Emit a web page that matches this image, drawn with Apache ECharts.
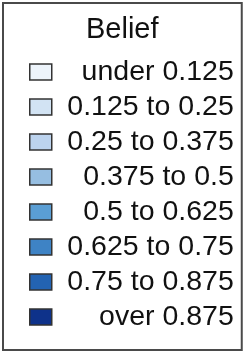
<!DOCTYPE html>
<html>
<head>
<meta charset="utf-8">
<script src="https://cdn.jsdelivr.net/npm/echarts@6/dist/echarts.min.js"></script>
<style>
  html, body { margin: 0; padding: 0; background: #fff; }
  #legendChart { width: 243px; height: 353px; }
</style>
</head>
<body>
<div id="legendChart"></div>
<script>
var legendTitle = 'Belief';
var beliefClasses = ['under 0.125', '0.125 to 0.25', '0.25 to 0.375', '0.375 to 0.5',
                     '0.5 to 0.625', '0.625 to 0.75', '0.75 to 0.875', 'over 0.875'];
var classColors = ['#edf4fb', '#d2e3f3', '#bcd3ee', '#96bee1',
                   '#5a9ed4', '#3e83c5', '#2363b2', '#0e328a'];

var dom = document.getElementById("legendChart");
var myChart = echarts.init(dom);
var option = null;

var series = beliefClasses.map(function (name, i) {
    return {
        name: name,
        type: 'bar',
        color: classColors[i],
        data: []
    };
});

option = {
    animation: false,
    title: {
        text: legendTitle,
        left: 86,
        top: 15,
        padding: 0,
        textStyle: {
            fontFamily: 'Liberation Sans, Arial, sans-serif',
            fontSize: 29,
            fontWeight: 'normal',
            color: '#111'
        }
    },
    legend: {
        orient: 'vertical',
        left: 3,
        top: 3,
        height: 340,   // keep all 8 rows in one column
        padding: [54.5, 8, 18.5, 26],
        borderColor: '#4a4a4a',
        borderWidth: 2,
        icon: 'rect',
        itemWidth: 22,
        itemHeight: 16,
        itemGap: 6,
        selectedMode: false,
        itemStyle: {
            borderColor: '#333',
            borderWidth: 1.5
        },
        formatter: function (name) {
            return '{t|' + name + '}';
        },
        textStyle: {
            rich: {
                t: {
                    width: 177,
                    align: 'right',
                    lineHeight: 16,
                    fontFamily: 'Liberation Sans, Arial, sans-serif',
                    fontSize: 28.5,
                    color: '#111'
                }
            }
        },
        data: beliefClasses
    },
    grid: { show: false },
    xAxis: { type: 'category', show: false, data: [] },
    yAxis: { type: 'value', show: false },
    series: series
};

if (option && typeof option === "object") {
    myChart.setOption(option, true);
}
</script>
</body>
</html>
